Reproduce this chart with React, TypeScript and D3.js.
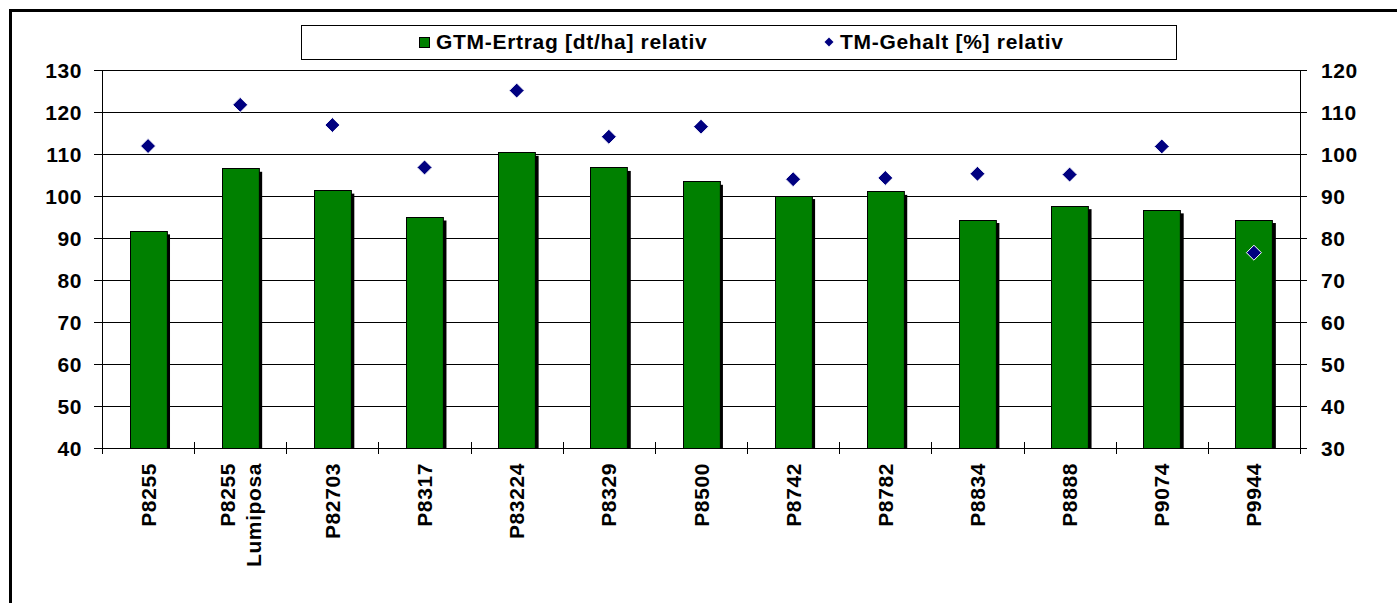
import React, { useRef, useEffect } from "react";
import * as d3 from "d3";

const categories = [
    "P8255",
    "P8255 Lumiposa",
    "P82703",
    "P8317",
    "P83224",
    "P8329",
    "P8500",
    "P8742",
    "P8782",
    "P8834",
    "P8888",
    "P9074",
    "P9944",
];
// GTM-Ertrag [dt/ha] relativ (left axis)
const gtmErtrag = [91.7, 106.6, 101.4, 95.0, 110.4, 106.8, 103.5, 100.1, 101.1, 94.4, 97.7, 96.7, 94.4];
// TM-Gehalt [%] relativ (right axis)
const tmGehalt = [101.9, 111.7, 106.9, 96.8, 115.1, 104.1, 106.5, 94.0, 94.3, 95.3, 95.1, 101.8, 76.5];

const leftTicks = [40, 50, 60, 70, 80, 90, 100, 110, 120, 130];
const rightTicks = [30, 40, 50, 60, 70, 80, 90, 100, 110, 120];

const seriesNames = ["GTM-Ertrag [dt/ha] relativ", "TM-Gehalt [%] relativ"];

const App = () => {
    const svgRef = useRef(null);

    useEffect(() => {
        const W = 1397;
        const H = 603;
        const plot = { left: 102, right: 1300, top: 70, bottom: 448 };
        const font = "Arial, 'Liberation Sans', sans-serif";

        const svg = d3.select(svgRef.current).attr("width", W).attr("height", H);
        svg.selectAll("*").remove();

        svg.append("rect").attr("width", W).attr("height", H).attr("fill", "#fff");

        // outer frame
        svg
            .append("rect")
            .attr("x", 10.5)
            .attr("y", 10.5)
            .attr("width", 1400)
            .attr("height", 600)
            .attr("fill", "none")
            .attr("stroke", "#000")
            .attr("stroke-width", 3);

        const x = d3
            .scaleBand()
            .domain(categories)
            .range([plot.left, plot.right])
            .paddingInner(0)
            .paddingOuter(0);

        const yLeft = d3.scaleLinear().domain([40, 130]).range([plot.bottom, plot.top]);
        const yRight = d3.scaleLinear().domain([30, 120]).range([plot.bottom, plot.top]);

        // gridlines
        svg
            .append("g")
            .selectAll("line")
            .data(leftTicks)
            .enter()
            .append("line")
            .attr("x1", plot.left)
            .attr("x2", plot.right)
            .attr("y1", (d) => Math.round(yLeft(d)) + 0.5)
            .attr("y2", (d) => Math.round(yLeft(d)) + 0.5)
            .attr("stroke", "#000")
            .attr("stroke-width", 1);

        // bars with shadow
        const barW = x.bandwidth() * 0.4;
        svg
            .append("clipPath")
            .attr("id", "plotclip")
            .append("rect")
            .attr("x", plot.left)
            .attr("y", plot.top - 20)
            .attr("width", plot.right - plot.left)
            .attr("height", plot.bottom - plot.top + 20);

        const bars = svg.append("g").attr("clip-path", "url(#plotclip)");
        bars
            .selectAll(".shadow")
            .data(gtmErtrag)
            .enter()
            .append("rect")
            .attr("class", "shadow")
            .attr("x", (d, i) => x(categories[i]) + (x.bandwidth() - barW) / 2 + 3.5)
            .attr("y", (d) => yLeft(d) + 3.5)
            .attr("width", barW)
            .attr("height", (d) => plot.bottom - yLeft(d))
            .attr("fill", "#000");
        bars
            .selectAll(".bar")
            .data(gtmErtrag)
            .enter()
            .append("rect")
            .attr("class", "bar")
            .attr("x", (d, i) => Math.round(x(categories[i]) + (x.bandwidth() - barW) / 2) + 0.5)
            .attr("y", (d) => Math.round(yLeft(d)) + 0.5)
            .attr("width", barW)
            .attr("height", (d) => plot.bottom - Math.round(yLeft(d)))
            .attr("fill", "#008000")
            .attr("stroke", "#000")
            .attr("stroke-width", 1);

        // axes lines
        svg
            .append("line")
            .attr("x1", plot.left + 0.5)
            .attr("x2", plot.left + 0.5)
            .attr("y1", plot.top)
            .attr("y2", plot.bottom + 6)
            .attr("stroke", "#000");
        svg
            .append("line")
            .attr("x1", plot.right + 0.5)
            .attr("x2", plot.right + 0.5)
            .attr("y1", plot.top)
            .attr("y2", plot.bottom + 6)
            .attr("stroke", "#000");
        svg
            .append("line")
            .attr("x1", plot.left)
            .attr("x2", plot.right + 7)
            .attr("y1", plot.bottom + 0.5)
            .attr("y2", plot.bottom + 0.5)
            .attr("stroke", "#000");

        // left ticks + labels
        const lt = svg.append("g").selectAll("g").data(leftTicks).enter().append("g");
        lt.append("line")
            .attr("x1", plot.left - 8)
            .attr("x2", plot.left)
            .attr("y1", (d) => Math.round(yLeft(d)) + 0.5)
            .attr("y2", (d) => Math.round(yLeft(d)) + 0.5)
            .attr("stroke", "#000");
        lt.append("text")
            .attr("x", 82)
            .attr("y", (d) => yLeft(d) + 7.5)
            .attr("text-anchor", "end")
            .style("font-family", font)
            .style("font-weight", "bold")
            .style("font-size", "21px")
            .style("letter-spacing", "0.6px")
            .text((d) => d);

        // right ticks + labels
        const rt = svg.append("g").selectAll("g").data(rightTicks).enter().append("g");
        rt.append("line")
            .attr("x1", plot.right - 7)
            .attr("x2", plot.right + 7)
            .attr("y1", (d) => Math.round(yRight(d)) + 0.5)
            .attr("y2", (d) => Math.round(yRight(d)) + 0.5)
            .attr("stroke", "#000");
        rt.append("text")
            .attr("x", 1321)
            .attr("y", (d) => yRight(d) + 7.5)
            .attr("text-anchor", "start")
            .style("font-family", font)
            .style("font-weight", "bold")
            .style("font-size", "21px")
            .style("letter-spacing", "0.6px")
            .text((d) => d);

        // x ticks at band edges
        const edges = categories.map((c) => x(c)).slice(1);
        svg
            .append("g")
            .selectAll("line")
            .data(edges)
            .enter()
            .append("line")
            .attr("x1", (d) => Math.round(d) + 0.5)
            .attr("x2", (d) => Math.round(d) + 0.5)
            .attr("y1", plot.bottom - 6)
            .attr("y2", plot.bottom + 6)
            .attr("stroke", "#000");

        // x labels, rotated
        const xl = svg
            .append("g")
            .selectAll("text")
            .data(categories)
            .enter()
            .append("text")
            .attr("transform", (d) => `translate(${x(d) + x.bandwidth() / 2}, 463) rotate(-90)`)
            .attr("text-anchor", "end")
            .style("font-family", font)
            .style("font-weight", "bold")
            .style("font-size", "21px")
            .style("letter-spacing", "0.6px");
        xl.each(function (d) {
            const parts = d.split(" ");
            const lineH = 26;
            const first = -((parts.length - 1) * lineH) / 2 + 7.5;
            parts.forEach((p, j) => {
                d3.select(this)
                    .append("tspan")
                    .attr("x", 0)
                    .attr("y", first + j * lineH)
                    .text(p);
            });
        });

        // diamonds
        const dsize = 7.5;
        svg
            .append("g")
            .selectAll("path")
            .data(tmGehalt)
            .enter()
            .append("path")
            .attr("transform", (d, i) => `translate(${x(categories[i]) + x.bandwidth() / 2}, ${yRight(d)})`)
            .attr("d", `M0,${-dsize}L${dsize},0L0,${dsize}L${-dsize},0Z`)
            .attr("fill", "#000080")
            .attr("stroke", "#fff")
            .attr("stroke-width", 1);

        // legend
        const lg = svg.append("g");
        lg.append("rect")
            .attr("x", 301.5)
            .attr("y", 25.5)
            .attr("width", 875)
            .attr("height", 34)
            .attr("fill", "#fff")
            .attr("stroke", "#000");
        lg.append("rect")
            .attr("x", 419.5)
            .attr("y", 37.5)
            .attr("width", 10)
            .attr("height", 10)
            .attr("fill", "#008000")
            .attr("stroke", "#000");
        lg.append("text")
            .attr("x", 436)
            .attr("y", 49)
            .style("font-family", font)
            .style("font-weight", "bold")
            .style("font-size", "21px")
            .style("letter-spacing", "0.7px")
            .text(seriesNames[0]);
        lg.append("path")
            .attr("transform", "translate(829, 42)")
            .attr("d", "M0,-4.5L4.5,0L0,4.5L-4.5,0Z")
            .attr("fill", "#000080");
        lg.append("text")
            .attr("x", 840)
            .attr("y", 49)
            .style("font-family", font)
            .style("font-weight", "bold")
            .style("font-size", "21px")
            .style("letter-spacing", "0.7px")
            .text(seriesNames[1]);
    }, []);

    return (
        <div style={{ position: "absolute", left: 0, top: 0 }}>
            <svg ref={svgRef} style={{ display: "block" }}></svg>
        </div>
    );
};

export default App;
